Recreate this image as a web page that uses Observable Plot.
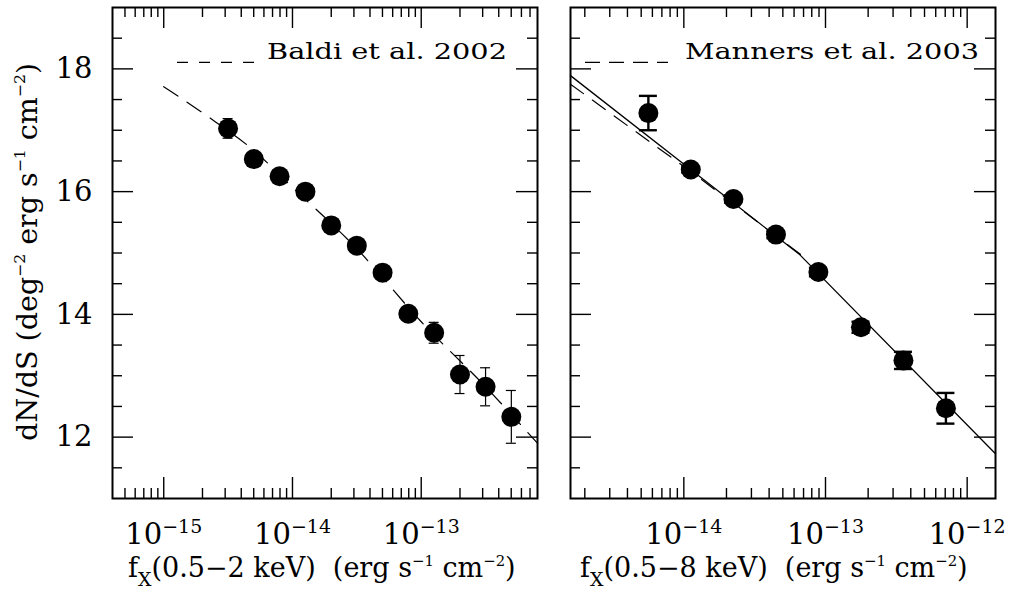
<!DOCTYPE html>
<html><head><meta charset="utf-8">
<script src="https://cdn.jsdelivr.net/npm/d3@7"></script>
<script src="https://cdn.jsdelivr.net/npm/@observablehq/plot@0.6"></script>
<style>
html,body{margin:0;padding:0;background:#fff;}
#wrap{position:relative;width:1014px;height:592px;display:flex;}
svg{display:block;overflow:visible}
</style></head><body><div id="wrap"></div>
<script>
const FONT = "DejaVu Serif";

// ---- Left panel: Baldi et al. 2002, 0.5-2 keV ----
const baldiFlux = [3.16e-15, 5.01e-15, 7.94e-15, 1.26e-14, 2.0e-14, 3.16e-14, 5.01e-14, 7.94e-14, 1.26e-13, 2.0e-13, 3.16e-13, 5.01e-13];
const baldiDnds = [17.03, 16.53, 16.25, 16.00, 15.45, 15.12, 14.68, 14.01, 13.70, 13.02, 12.82, 12.33];
const baldiErr  = [0.16, 0.06, 0.06, 0.07, 0.07, 0.08, 0.09, 0.12, 0.17, 0.31, 0.31, 0.43];
const baldiFitFlux = [1e-15, 2.51e-15, 5.01e-15, 1e-14, 3.16e-14, 1e-13, 3.16e-13, 8e-13];
const baldiFitDnds = [17.71, 17.14, 16.67, 16.07, 15.07, 13.88, 12.82, 11.90];
const leftDomain = [4e-16, 8e-13];
const leftDecades = [1e-16, 1e-15, 1e-14, 1e-13];
const leftMajor = [1e-15, 1e-14, 1e-13];

// ---- Right panel: Manners et al. 2003, 0.5-8 keV ----
const mannersFlux = [5.62e-15, 1.12e-14, 2.24e-14, 4.47e-14, 8.91e-14, 1.78e-13, 3.55e-13, 7.08e-13];
const mannersDnds = [17.28, 16.36, 15.88, 15.30, 14.69, 13.79, 13.25, 12.47];
const mannersErr  = [0.28, 0.05, 0.06, 0.06, 0.07, 0.09, 0.14, 0.25];
const fitFlux = [1.585e-15, 6.6e-14, 1.585e-12];      // solid broken power law
const fitDnds = [17.89, 14.97, 11.73];
const modelFlux = [1.585e-15, 1.26e-14, 6.9e-14];     // dashed Manners model
const modelDnds = [17.75, 16.24, 14.95];
const rightDomain = [1.585e-15, 1.585e-12];
const rightDecades = [1e-15, 1e-14, 1e-13, 1e-12];
const rightMajor = [1e-14, 1e-13, 1e-12];

// ---- shared y axis ----
const yDomain = [11, 19];
const yMajor = [12, 14, 16, 18];
const yMinor = [11.5, 12.5, 13, 13.5, 14.5, 15, 15.5, 16.5, 17, 17.5, 18.5];

const H = 592, MT = 7, MB = 94;
const innerH = H - MT - MB;
const MAJ = 21, MIN = 10;

function minorTicks(decades, domain) {
  return decades.flatMap(d => [2,3,4,5,6,7,8,9].map(k => k * d))
    .filter(v => v > domain[0] * 1.001 && v < domain[1] * 0.999);
}
function rows(xs, ys, es) { return xs.map((x, i) => ({x, y: ys[i], e: es ? es[i] : 0})); }

function panel({width, marginLeft, marginRight, domain, major, minor, yLabels, marks}) {
  const innerW = width - marginLeft - marginRight;
  const tk = {stroke: "black", strokeWidth: 1.4};
  return Plot.plot({
    width, height: H, marginTop: MT, marginBottom: MB, marginLeft, marginRight,
    style: {fontFamily: FONT, background: "white", color: "black"},
    x: {type: "log", domain, axis: null},
    y: {domain: yDomain, axis: null},
    marks: [
      ...marks,
      Plot.tickX(major, {x: d => d, insetTop: innerH - MAJ, ...tk}),
      Plot.tickX(minor, {x: d => d, insetTop: innerH - MIN, ...tk}),
      Plot.tickX(major, {x: d => d, insetBottom: innerH - MAJ, ...tk}),
      Plot.tickX(minor, {x: d => d, insetBottom: innerH - MIN, ...tk}),
      Plot.tickY(yMajor, {y: d => d, insetRight: innerW - MAJ, ...tk}),
      Plot.tickY(yMinor, {y: d => d, insetRight: innerW - MIN, ...tk}),
      Plot.tickY(yMajor, {y: d => d, insetLeft: innerW - MAJ, ...tk}),
      Plot.tickY(yMinor, {y: d => d, insetLeft: innerW - MIN, ...tk}),
      Plot.axisX(major, {anchor: "bottom", tickSize: 0, tickPadding: 25, tickFormat: d => "10|" + Math.round(Math.log10(d)), fontSize: 29, label: null}),
      ...(yLabels ? [Plot.axisY(yMajor, {anchor: "left", tickSize: 0, tickPadding: 20, tickFormat: d => String(d), fontSize: 29, label: null})] : []),
      Plot.frame({stroke: "black", strokeWidth: 2})
    ]
  });
}

function errMarks(data, capHalf, sw) {
  return [
    Plot.ruleX(data, {x: "x", y1: d => d.y - d.e, y2: d => d.y + d.e, stroke: "black", strokeWidth: sw}),
    Plot.ruleY(data, {y: d => d.y + d.e, x1: "x", x2: "x", insetLeft: -capHalf, insetRight: -capHalf, stroke: "black", strokeWidth: sw}),
    Plot.ruleY(data, {y: d => d.y - d.e, x1: "x", x2: "x", insetLeft: -capHalf, insetRight: -capHalf, stroke: "black", strokeWidth: sw})
  ];
}

const leftData = rows(baldiFlux, baldiDnds, baldiErr);
const rightData = rows(mannersFlux, mannersDnds, mannersErr);

const left = panel({
  width: 550, marginLeft: 112, marginRight: 13,
  domain: leftDomain, major: leftMajor, minor: minorTicks(leftDecades, leftDomain), yLabels: true,
  marks: [
    Plot.line(rows(baldiFitFlux, baldiFitDnds), {x: "x", y: "y", stroke: "black", strokeWidth: 1.2, strokeDasharray: "17,11", curve: "monotone-x"}),
    ...errMarks(leftData, 5, 1.2),
    Plot.dot(leftData, {x: "x", y: "y", r: 10, fill: "black"})
  ]
});

const right = panel({
  width: 464, marginLeft: 20, marginRight: 19,
  domain: rightDomain, major: rightMajor, minor: minorTicks(rightDecades, rightDomain), yLabels: false,
  marks: [
    Plot.line(rows(modelFlux, modelDnds), {x: "x", y: "y", stroke: "black", strokeWidth: 1.2, strokeDasharray: "16,11"}),
    Plot.line(rows(fitFlux, fitDnds), {x: "x", y: "y", stroke: "black", strokeWidth: 1.3}),
    ...errMarks(rightData, 9, 2.4),
    Plot.dot(rightData, {x: "x", y: "y", r: 10, fill: "black"})
  ]
});

const wrap = document.getElementById("wrap");
wrap.appendChild(left);
wrap.appendChild(right);

// power-of-ten tick labels: "10" with a raised exponent
for (const svg of [left, right]) {
  d3.select(svg).selectAll('g[aria-label="x-axis tick label"] text').each(function () {
    const t = d3.select(this);
    const [base, exp] = t.text().split("|");
    t.text(null);
    t.append("tspan").text(base);
    t.append("tspan").attr("dy", -11).attr("font-size", 19).text(exp.replace("-", "\u2212"));
  });
}

// ---- rich text (sub/superscripts), titles, legends ----
function rich(textSel, parts, fs) {
  let cur = 0;
  for (const [t, s] of parts) {
    const target = s === 1 ? -0.42 : s === -1 ? 0.33 : 0;
    const size = s === 1 ? 0.55 : s === -1 ? 0.7 : 1;
    textSel.append("tspan").attr("dy", ((target - cur) * fs).toFixed(2)).attr("font-size", fs * size).text(t);
    cur = target;
  }
}
function xTitle(svg, x, band) {
  const fs = 27;
  const t = d3.select(svg).append("text").attr("x", x).attr("y", 577).attr("text-anchor", "start")
    .attr("font-family", FONT).attr("font-size", fs).attr("fill", "black").style("white-space", "pre");
  rich(t, [["f", 0], ["X", -1], ["(0.5\u2212" + band + " keV)  (erg s", 0], ["\u22121", 1], [" cm", 0], ["\u22122", 1], [")", 0]], fs);
}
xTitle(left, 128, "2");
xTitle(right, 30, "8");

{
  const fs = 28.5;
  const t = d3.select(left).append("text")
    .attr("transform", "translate(37,252) rotate(-90)").attr("text-anchor", "middle")
    .attr("font-family", FONT).attr("font-size", fs).attr("fill", "black").style("white-space", "pre");
  rich(t, [["dN/dS (deg", 0], ["\u22122", 1], [" erg s", 0], ["\u22121", 1], [" cm", 0], ["\u22122", 1], [")", 0]], fs);
}

function legend(svg, {x0, x1, dash, textEnd, textLen, label}) {
  const g = d3.select(svg).append("g");
  g.append("line").attr("x1", x0).attr("x2", x1).attr("y1", 62.3).attr("y2", 62.3)
    .attr("stroke", "black").attr("stroke-width", 1.3).attr("stroke-dasharray", dash);
  g.append("text").attr("x", textEnd).attr("y", 58.5).attr("text-anchor", "end")
    .attr("font-family", FONT).attr("font-size", 22).attr("fill", "black")
    .attr("textLength", textLen).attr("lengthAdjust", "spacingAndGlyphs").text(label);
}
legend(left, {x0: 177, x1: 256, dash: "11,11", textEnd: 507, textLen: 240, label: "Baldi et al. 2002"});
legend(right, {x0: 35, x1: 118, dash: "15,9", textEnd: 429, textLen: 294, label: "Manners et al. 2003"});
</script>
</body></html>
